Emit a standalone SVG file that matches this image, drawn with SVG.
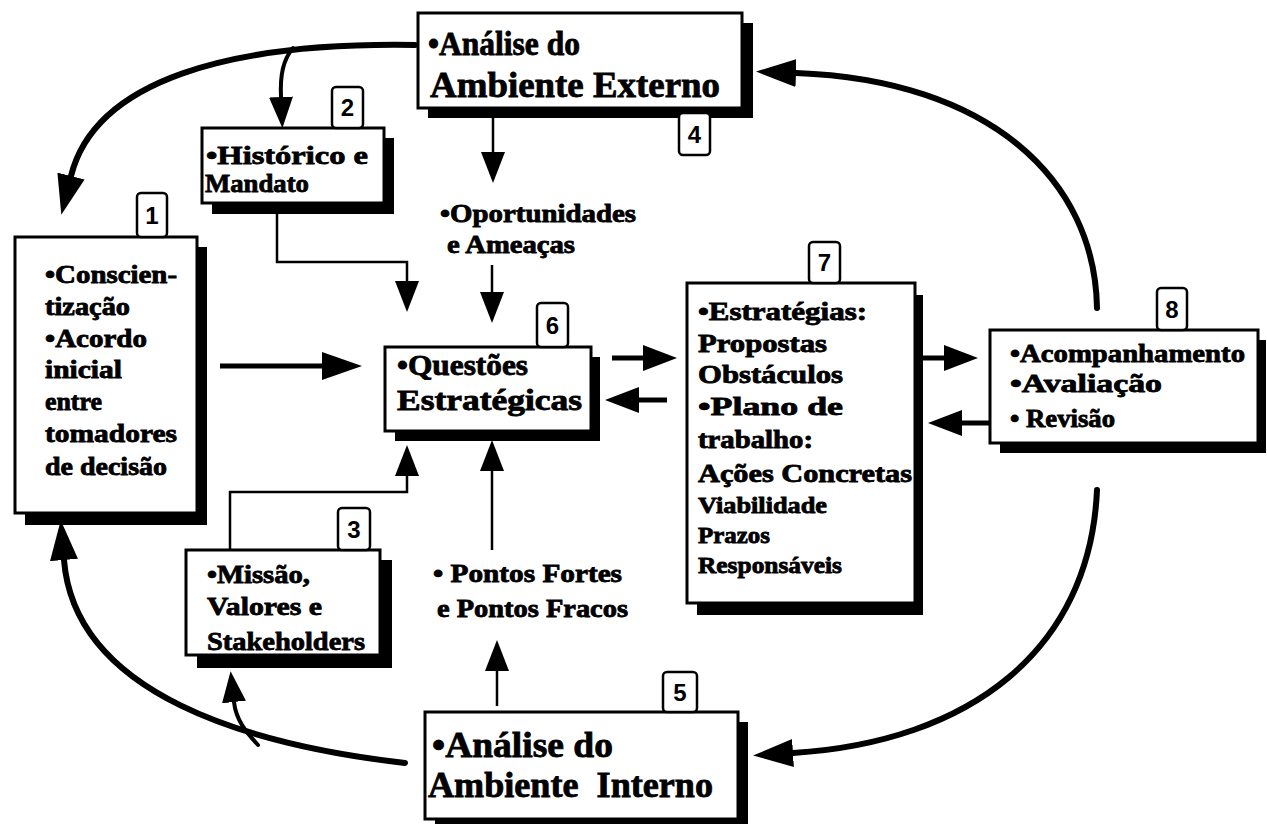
<svg xmlns="http://www.w3.org/2000/svg" width="1267" height="824" viewBox="0 0 1267 824">
<style>
.bg{fill:#fff}
.box{fill:#fff;stroke:#000;stroke-width:3}
.sh{fill:#000}
.t{font-family:"Liberation Serif","Times New Roman",serif;font-weight:bold;fill:#000;stroke:#000;stroke-width:0.8}
.lab{fill:#fff;stroke:#000;stroke-width:2.5}
.num{font-family:"Liberation Sans",Arial,sans-serif;font-weight:bold;font-size:24px;fill:#000;text-anchor:middle}
.arc{fill:none;stroke:#000;stroke-width:6;stroke-linecap:round}
.br{fill:none;stroke:#000;stroke-width:4;stroke-linecap:round}
.thin{fill:none;stroke:#000;stroke-width:2.5}
.med{fill:none;stroke:#000;stroke-width:5}
</style>
<defs>
<marker id="big" markerUnits="userSpaceOnUse" markerWidth="40" markerHeight="28" viewBox="0 0 40 28" refX="0" refY="14" orient="auto"><path d="M0,0 L40,14 L0,28 z" fill="#000"/></marker>
<marker id="mid" markerUnits="userSpaceOnUse" markerWidth="34" markerHeight="26" viewBox="0 0 34 26" refX="0" refY="13" orient="auto"><path d="M0,0 L34,13 L0,26 z" fill="#000"/></marker>
<marker id="sm" markerUnits="userSpaceOnUse" markerWidth="31" markerHeight="24" viewBox="0 0 31 24" refX="0" refY="12" orient="auto"><path d="M0,0 L31,12 L0,24 z" fill="#000"/></marker>
</defs>
<rect class="bg" x="0" y="0" width="1267" height="824"/>

<g id="connectors">
<path class="arc" d="M415 45 C230 42 95 80 71 176" marker-end="url(#big)"/>
<path class="br" d="M293 48 C283 60 280 75 281 97" marker-end="url(#sm)"/>
<path class="arc" d="M1097 308 C1095 180 990 80 796 73" marker-end="url(#big)"/>
<path class="arc" d="M1097 490 C1090 650 970 742 793 753" marker-end="url(#big)"/>
<path class="arc" d="M405 763 C250 745 75 695 64 560" marker-end="url(#big)"/>
<path class="br" d="M258 745 C246 732 236 720 234 702" marker-end="url(#sm)"/>
<path class="thin" d="M493 110 L493 152" marker-end="url(#sm)"/>
<path class="thin" d="M492 265 L492 292" marker-end="url(#sm)"/>
<path class="thin" d="M277 210 L277 262 L407 262 L407 281" marker-end="url(#sm)"/>
<path class="thin" d="M230 550 L230 492 L407 492 L407 476" marker-end="url(#sm)"/>
<path class="thin" d="M492 550 L492 471" marker-end="url(#sm)"/>
<path class="thin" d="M497 706 L497 671" marker-end="url(#sm)"/>
<path class="med" d="M220 366 L322 366" marker-end="url(#big)"/>
<path class="med" d="M612 358 L643 358" marker-end="url(#mid)"/>
<path class="med" d="M667 400 L639 400" marker-end="url(#mid)"/>
<path class="med" d="M917 358 L944 358" marker-end="url(#mid)"/>
<path class="med" d="M990 423 L962 423" marker-end="url(#mid)"/>
</g>

<g id="node4">
<rect class="sh" x="428" y="23" width="325" height="95"/>
<rect class="box" x="418" y="13" width="324" height="95"/>
<text class="t" x="428" y="55" font-size="33" textLength="152" lengthAdjust="spacingAndGlyphs">•Análise do</text>
<text class="t" x="430" y="97" font-size="36" textLength="290" lengthAdjust="spacingAndGlyphs">Ambiente Externo</text>
<rect class="lab" x="679" y="113" width="31" height="42" rx="4"/>
<text class="num" x="694.5" y="143">4</text>
</g>

<g id="node2">
<rect class="sh" x="212" y="138" width="182" height="76"/>
<rect class="box" x="202" y="128" width="182" height="75"/>
<text class="t" x="206" y="164" font-size="26" textLength="162" lengthAdjust="spacingAndGlyphs">•Histórico e</text>
<text class="t" x="205" y="192" font-size="26" textLength="104" lengthAdjust="spacingAndGlyphs">Mandato</text>
<rect class="lab" x="332" y="87" width="31" height="41" rx="4"/>
<text class="num" x="347.5" y="116">2</text>
</g>

<g id="node1">
<rect class="sh" x="25" y="247" width="182" height="278"/>
<rect class="box" x="15" y="237" width="182" height="276"/>
<text class="t" x="45" y="283" font-size="25" textLength="132" lengthAdjust="spacingAndGlyphs">•Conscien-</text>
<text class="t" x="45" y="315" font-size="25" textLength="85" lengthAdjust="spacingAndGlyphs">tização</text>
<text class="t" x="45" y="347" font-size="25" textLength="102" lengthAdjust="spacingAndGlyphs">•Acordo</text>
<text class="t" x="45" y="378" font-size="25" textLength="77" lengthAdjust="spacingAndGlyphs">inicial</text>
<text class="t" x="45" y="410" font-size="25" textLength="57" lengthAdjust="spacingAndGlyphs">entre</text>
<text class="t" x="45" y="442" font-size="25" textLength="132" lengthAdjust="spacingAndGlyphs">tomadores</text>
<text class="t" x="45" y="475" font-size="25" textLength="122" lengthAdjust="spacingAndGlyphs">de decisão</text>
<rect class="lab" x="137" y="193" width="30" height="44" rx="4"/>
<text class="num" x="152" y="224">1</text>
</g>

<g id="label-oportunidades">
<text class="t" x="440" y="222" font-size="25" textLength="196" lengthAdjust="spacingAndGlyphs">•Oportunidades</text>
<text class="t" x="447" y="253" font-size="25" textLength="128" lengthAdjust="spacingAndGlyphs">e Ameaças</text>
</g>

<g id="node6">
<rect class="sh" x="395" y="357" width="205" height="84"/>
<rect class="box" x="385" y="347" width="206" height="84"/>
<text class="t" x="397" y="375" font-size="29" textLength="131" lengthAdjust="spacingAndGlyphs">•Questões</text>
<text class="t" x="397" y="410" font-size="29" textLength="185" lengthAdjust="spacingAndGlyphs">Estratégicas</text>
<rect class="lab" x="537" y="303" width="31" height="44" rx="4"/>
<text class="num" x="552.5" y="334">6</text>
</g>

<g id="node7">
<rect class="sh" x="697" y="295" width="226" height="320"/>
<rect class="box" x="687" y="283" width="228" height="320"/>
<text class="t" x="698" y="320" font-size="25" textLength="169" lengthAdjust="spacingAndGlyphs">•Estratégias:</text>
<text class="t" x="698" y="352" font-size="25" textLength="129" lengthAdjust="spacingAndGlyphs">Propostas</text>
<text class="t" x="698" y="383" font-size="25" textLength="145" lengthAdjust="spacingAndGlyphs">Obstáculos</text>
<text class="t" x="698" y="415" font-size="25" textLength="145" lengthAdjust="spacingAndGlyphs">•Plano de</text>
<text class="t" x="698" y="448" font-size="25" textLength="115" lengthAdjust="spacingAndGlyphs">trabalho:</text>
<text class="t" x="698" y="482" font-size="25" textLength="214" lengthAdjust="spacingAndGlyphs">Ações Concretas</text>
<text class="t" x="698" y="513" font-size="23" textLength="129" lengthAdjust="spacingAndGlyphs">Viabilidade</text>
<text class="t" x="698" y="543" font-size="23" textLength="72" lengthAdjust="spacingAndGlyphs">Prazos</text>
<text class="t" x="698" y="573" font-size="23" textLength="144" lengthAdjust="spacingAndGlyphs">Responsáveis</text>
<rect class="lab" x="809" y="242" width="31" height="41" rx="4"/>
<text class="num" x="824.5" y="271">7</text>
</g>

<g id="node8">
<rect class="sh" x="1000" y="340" width="266" height="113"/>
<rect class="box" x="990" y="330" width="268" height="113"/>
<text class="t" x="1010" y="362" font-size="25" textLength="235" lengthAdjust="spacingAndGlyphs">•Acompanhamento</text>
<text class="t" x="1010" y="392" font-size="25" textLength="152" lengthAdjust="spacingAndGlyphs">•Avaliação</text>
<text class="t" x="1010" y="427" font-size="25" textLength="105" lengthAdjust="spacingAndGlyphs" xml:space="preserve">• Revisão</text>
<rect class="lab" x="1157" y="288" width="30" height="42" rx="4"/>
<text class="num" x="1172" y="318">8</text>
</g>

<g id="node3">
<rect class="sh" x="197" y="560" width="195" height="108"/>
<rect class="box" x="186" y="550" width="194" height="105"/>
<text class="t" x="207" y="583" font-size="26" textLength="103" lengthAdjust="spacingAndGlyphs">•Missão,</text>
<text class="t" x="207" y="615" font-size="26" textLength="115" lengthAdjust="spacingAndGlyphs">Valores e</text>
<text class="t" x="207" y="650" font-size="26" textLength="158" lengthAdjust="spacingAndGlyphs">Stakeholders</text>
<rect class="lab" x="338" y="508" width="32" height="42" rx="4"/>
<text class="num" x="354" y="538">3</text>
</g>

<g id="label-pontos">
<text class="t" x="433" y="582" font-size="25" textLength="189" lengthAdjust="spacingAndGlyphs" xml:space="preserve">• Pontos Fortes</text>
<text class="t" x="437" y="617" font-size="25" textLength="191" lengthAdjust="spacingAndGlyphs">e Pontos Fracos</text>
</g>

<g id="node5">
<rect class="sh" x="435" y="722" width="313" height="102"/>
<rect class="box" x="425" y="712" width="313" height="107"/>
<text class="t" x="432" y="757" font-size="36" textLength="181" lengthAdjust="spacingAndGlyphs">•Análise do</text>
<text class="t" x="428" y="797" font-size="36" textLength="285" lengthAdjust="spacingAndGlyphs" xml:space="preserve">Ambiente  Interno</text>
<rect class="lab" x="663" y="672" width="34" height="40" rx="4"/>
<text class="num" x="680" y="701">5</text>
</g>
</svg>
